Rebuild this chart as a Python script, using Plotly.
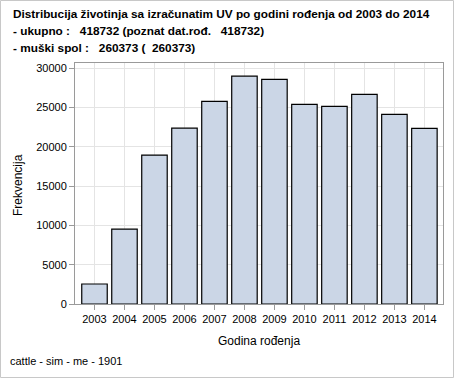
import plotly.graph_objects as go

years = [2003, 2004, 2005, 2006, 2007, 2008, 2009, 2010, 2011, 2012, 2013, 2014]
counts = [2540, 9530, 18930, 22360, 25760, 28970, 28550, 25370, 25120, 26640, 24100, 22320]
y_ticks = [0, 5000, 10000, 15000, 20000, 25000, 30000]
title_lines = [
    "Distribucija životinja sa izračunatim UV po godini rođenja od 2003 do 2014",
    "- ukupno :   418732 (poznat dat.rođ.   418732)",
    "- muški spol :   260373 (  260373)",
]
x_title = "Godina rođenja"
y_title = "Frekvencija"
footnote = "cattle - sim - me - 1901"

W, H = 454, 378
ML, MR, MT, MB = 75, 11, 63, 74
PW, PH = W - ML - MR, H - MT - MB

def px(x):
    return (x - ML) / PW

def py(y):
    return (H - MB - y) / PH

FONT = "Liberation Sans, Arial, sans-serif"

fig = go.Figure(go.Bar(
    x=years, y=counts, width=0.85,
    marker=dict(color="#cbd6e6", line=dict(color="black", width=1.2)),
))

ann = []
for i, t in enumerate(title_lines):
    ann.append(dict(text="<b>" + t + "</b>", x=px(11), y=py(14 + 17 * i), xref="paper", yref="paper",
                    xanchor="left", yanchor="middle", showarrow=False,
                    font=dict(family=FONT, size=11.8, color="black")))
ann.append(dict(text=x_title, x=px(259), y=py(341), xref="paper", yref="paper",
                xanchor="center", yanchor="middle", showarrow=False,
                font=dict(family=FONT, size=12, color="black")))
ann.append(dict(text=y_title, x=px(18), y=py(185), xref="paper", yref="paper",
                xanchor="center", yanchor="middle", showarrow=False, textangle=-90,
                font=dict(family=FONT, size=12, color="black")))
ann.append(dict(text=footnote, x=px(8), y=py(361), xref="paper", yref="paper",
                xanchor="left", yanchor="middle", showarrow=False,
                font=dict(family=FONT, size=11, color="black")))

fig.update_layout(
    width=W, height=H,
    margin=dict(l=ML, r=MR, t=MT, b=MB),
    paper_bgcolor="white", plot_bgcolor="white",
    showlegend=False,
    font=dict(family=FONT, size=11, color="black"),
    annotations=ann,
    shapes=[dict(type="rect", xref="paper", yref="paper",
                 x0=px(0.5), x1=px(W - 0.5), y0=py(H - 0.5), y1=py(0.5),
                 line=dict(color="#c8c8c8", width=1), layer="below")],
    xaxis=dict(
        range=[2002.35, 2014.62], tickmode="array", tickvals=years,
        ticktext=[str(y) for y in years],
        showgrid=True, gridcolor="#e4e4e4", gridwidth=1,
        showline=True, linecolor="#9a9a9a", linewidth=1, mirror=True,
        ticks="outside", ticklen=5, tickcolor="#9a9a9a",
        tickfont=dict(family=FONT, size=11, color="black"),
        zeroline=False,
    ),
    yaxis=dict(
        range=[0, 30640], tickmode="array", tickvals=y_ticks,
        ticktext=[str(v) for v in y_ticks],
        showgrid=True, gridcolor="#e4e4e4", gridwidth=1,
        showline=True, linecolor="#9a9a9a", linewidth=1, mirror=True,
        ticks="outside", ticklen=5, tickcolor="#9a9a9a",
        tickfont=dict(family=FONT, size=11, color="black"),
        zeroline=False,
    ),
)

fig.write_html("out.html", config={"displayModeBar": False},
               post_script="document.body.style.margin='0';")
